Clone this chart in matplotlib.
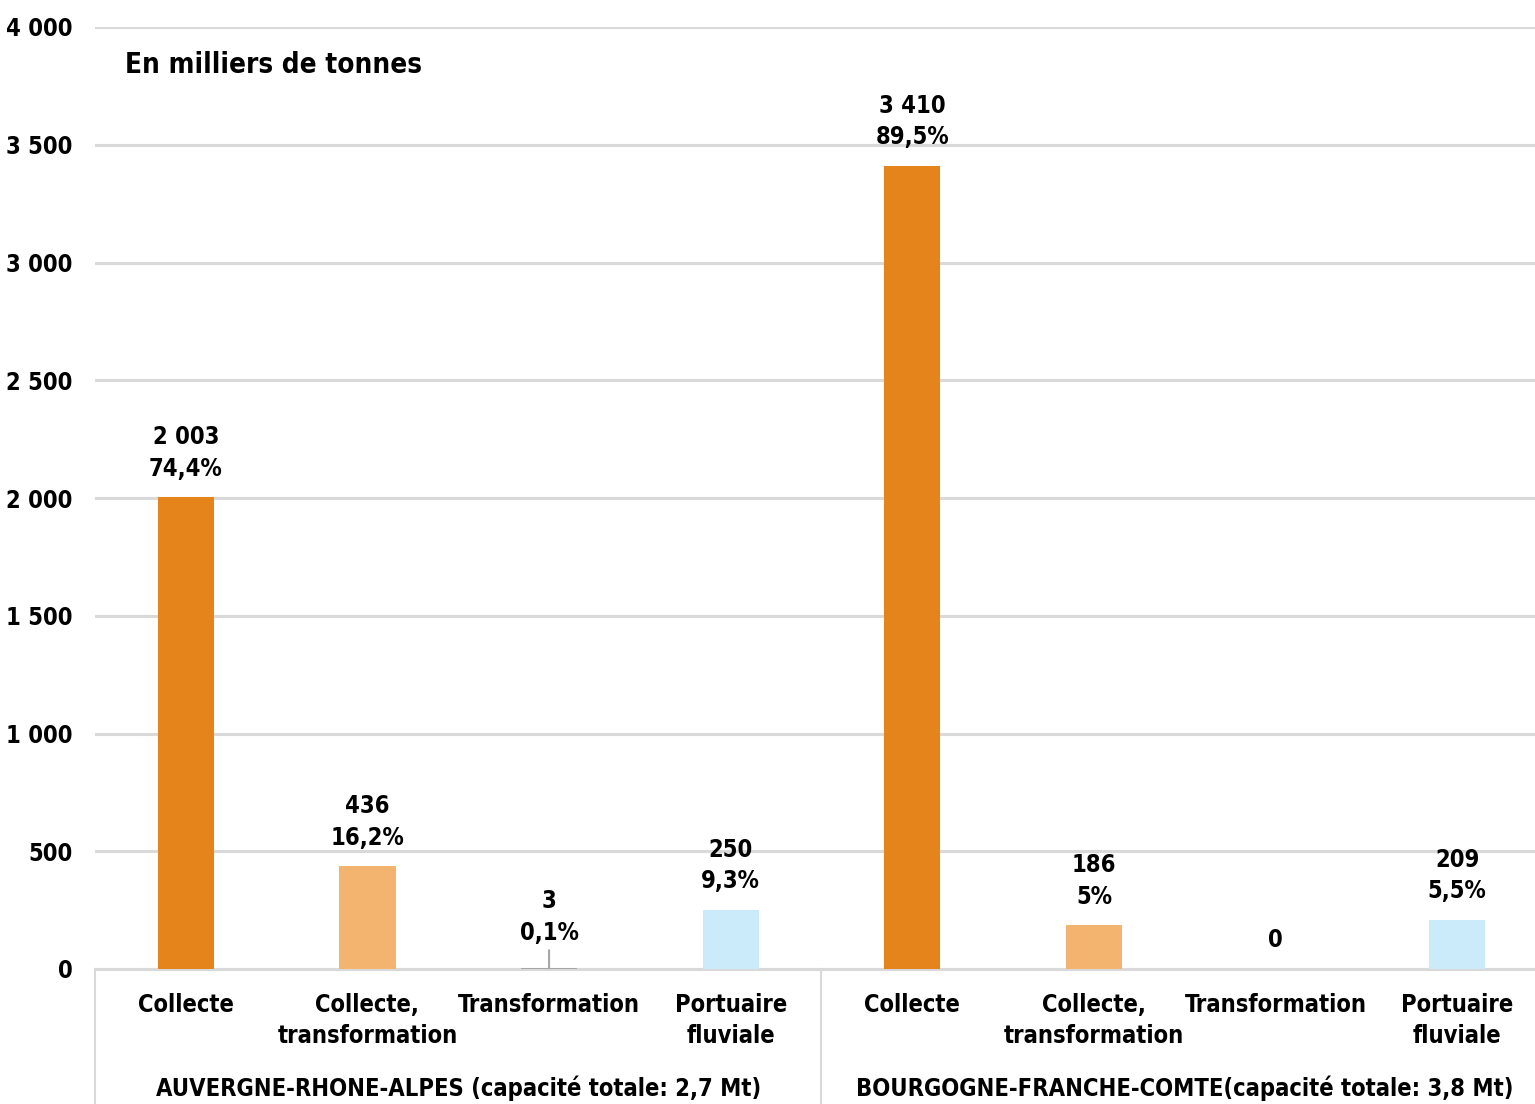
import matplotlib
matplotlib.use("Agg")
import matplotlib.pyplot as plt
import matplotlib.transforms as mtransforms
import numpy as np

plt.rcParams['font.family'] = ['DejaVu Sans']
plt.rcParams['font.stretch'] = 'condensed'
plt.rcParams['font.weight'] = 'bold'

# data (milliers de tonnes)
categories = ["Collecte", "Collecte,\ntransformation", "Transformation", "Portuaire\nfluviale",
              "Collecte", "Collecte,\ntransformation", "Transformation", "Portuaire\nfluviale"]
values = [2003, 436, 3, 250, 3410, 186, 0, 209]
value_labels = ["2 003", "436", "3", "250", "3 410", "186", "0", "209"]
pct_labels = ["74,4%", "16,2%", "0,1%", "9,3%", "89,5%", "5%", "", "5,5%"]
groups = ["AUVERGNE-RHONE-ALPES (capacité totale: 2,7 Mt)",
          "BOURGOGNE-FRANCHE-COMTE(capacité totale: 3,8 Mt)"]
yticks = [0, 500, 1000, 1500, 2000, 2500, 3000, 3500, 4000]
ytick_labels = ["0", "500", "1 000", "1 500", "2 000", "2 500", "3 000", "3 500", "4 000"]

colors = ["#E4841A", "#F2B46E", "#A6A6A6", "#CCEBFA"] * 2
FS = 17

W, H = 1535, 1104
fig = plt.figure(figsize=(W / 100, H / 100), dpi=100)
ax = fig.add_axes([95 / W, 135 / H, 1453 / W, 942 / H])

x = np.arange(len(values))
ax.bar(x, values, width=0.31, color=colors, zorder=3)

ax.set_xlim(-0.5, len(values) - 0.5)
ax.set_ylim(0, 4000)
ax.set_yticks(yticks)
ax.set_yticklabels(ytick_labels, fontsize=FS)
ax.yaxis.grid(True, color="#D9D9D9", linewidth=2.2, zorder=0)
ax.set_axisbelow(True)
ax.tick_params(axis='y', length=0, pad=16)
ax.set_xticks(x)
ax.set_xticklabels(categories, fontsize=FS, linespacing=1.4)
ax.tick_params(axis='x', length=0, pad=17)
for s in ["top", "right", "left"]:
    ax.spines[s].set_visible(False)
ax.spines["bottom"].set_color("#D9D9D9")
ax.spines["bottom"].set_linewidth(2.2)

# data labels
for i, v in enumerate(values):
    txt = value_labels[i] if pct_labels[i] == "" else value_labels[i] + "\n" + pct_labels[i]
    if i == 2:
        ax.annotate(txt, xy=(x[i], v), xytext=(0, 17), textcoords="offset points",
                    ha="center", va="bottom", fontsize=FS, linespacing=1.4,
                    arrowprops=dict(arrowstyle="-", color="#A6A6A6", lw=1.5, shrinkA=2, shrinkB=0))
    else:
        ax.annotate(txt, xy=(x[i], v), xytext=(0, 12), textcoords="offset points",
                    ha="center", va="bottom", fontsize=FS, linespacing=1.4)

# group separators and group labels
trans = mtransforms.blended_transform_factory(ax.transData, ax.transAxes)
for sep in [-0.5, 3.5, 7.5]:
    ax.plot([sep, sep], [0, -0.2], transform=trans, color="#D9D9D9", lw=1.5, clip_on=False)
for g, label in enumerate(groups):
    ax.annotate(label, xy=(g * 4 + 1.5, 0), xycoords=trans, xytext=(0, -86),
                textcoords="offset points", ha="center", va="center", fontsize=FS)

ax.text(30 / 1453, (969 - 65) / 942, "En milliers de tonnes", transform=ax.transAxes,
        fontsize=20, ha="left", va="center")

fig.savefig("out.png", dpi=100)
